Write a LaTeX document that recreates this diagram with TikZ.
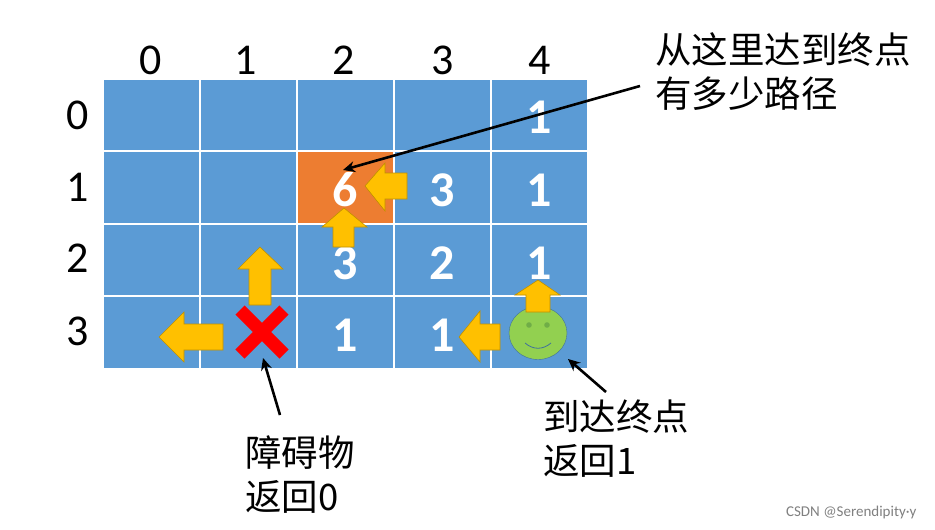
\documentclass[tikz,border=0pt]{standalone}
\usepackage{fontspec}
\setmainfont{Carlito}
\newfontfamily\cjk{Noto Sans CJK SC}
\usetikzlibrary{arrows.meta,shapes.geometric}
\begin{document}
\begin{tikzpicture}[x=1pt,y=-1pt,
  cell/.style={fill=cellblue,draw=white,line width=1.2pt},
  yarrow/.style={fill=arrowy,draw=arrowedge,line width=0.6pt},
  callout/.style={draw=black,line width=2.6pt,-{Stealth[length=12pt,width=11pt]}},
  num/.style={text=white,font=\fontsize{50}{50}\selectfont\bfseries},
  lab/.style={font=\fontsize{44}{44}\selectfont},
  ctext/.style={font=\cjk\fontsize{36.5}{44}\selectfont,align=left,anchor=north west,inner sep=0pt}]
\definecolor{cellblue}{HTML}{5B9BD5}
\definecolor{arrowy}{HTML}{FFC000}
\definecolor{arrowedge}{HTML}{BF9000}
\definecolor{orng}{HTML}{ED7D31}
\definecolor{smile}{HTML}{92D050}
\definecolor{smileedge}{HTML}{41719C}
\definecolor{eye}{HTML}{70AD47}
\useasboundingbox (0,0) rectangle (935,530);
\fill[white] (0,0) rectangle (935,530);
% grid
\foreach \i/\x in {0/103,1/200,2/297,3/394,4/491}{
  \foreach \j/\y in {0/79,1/151,2/224,3/296}{
    \draw[cell] (\x,\y) rectangle ++(97,72.5);
  }}
\fill[orng] (297.6,151.6) rectangle (393.4,223.4);
% labels
\foreach \i/\x in {0/151,1/246,2/344,3/443,4/540}
  \node[lab] (c\i) at (\x,60) {\i};
\foreach \j/\y in {0/115,1/187,2/258,3/331}
  \node[lab] (r\j) at (78,\y) {\j};
% numbers
\node[num] (n04) at (539,117) {1};
\node[num] (n12) at (345,190) {6};
\node[num] (n13) at (442,190) {3};
\node[num] (n14) at (539,190) {1};
\node[num] (n22) at (345,263) {3};
\node[num] (n23) at (442,263) {2};
\node[num] (n24) at (539,263) {1};
\node[num] (n32) at (345,335) {1};
\node[num] (n33) at (442,335) {1};
% yellow arrows
\draw[yarrow] (365,186) -- (385,163) -- (385,173) -- (407,173) -- (407,199) -- (385,199) -- (385,211) -- cycle;
\draw[yarrow] (344,208) -- (367,227) -- (354,227) -- (354,247) -- (333,247) -- (333,227) -- (322,227) -- cycle;
\draw[yarrow] (260,247) -- (283,269) -- (271,269) -- (271,305) -- (249,305) -- (249,269) -- (238,269) -- cycle;
\draw[yarrow] (159,337) -- (184,312) -- (184,324) -- (223,324) -- (223,350) -- (184,350) -- (184,362) -- cycle;
\draw[yarrow] (459,337) -- (480,311) -- (480,324) -- (500,324) -- (500,350) -- (480,350) -- (480,362) -- cycle;
% obstacle
\node (x) at (262,332) {};
\draw[red,line width=13pt] (240,310) -- (284,354) (284,310) -- (240,354);
% smiley
\node[draw=smileedge,fill=smile,ellipse,minimum width=58pt,minimum height=53pt,inner sep=0pt] (s) at (538,333) {};
\fill[eye] (529,325) circle (2.8) (547,325) circle (2.8);
\draw[smileedge,line width=0.8pt] (525,343) .. controls (533,350) and (543,350) .. (551,343);
\draw[yarrow] (538,280) -- (560,295) -- (550,295) -- (550,312) -- (526,312) -- (526,295) -- (515,295) -- cycle;
% callouts
\node[ctext] (t1) at (655,32) {从这里达到终点\\有多少路径};
\node[ctext] (t2) at (245,435) {障碍物\\返回0};
\node[ctext] (t3) at (543,400) {到达终点\\返回1};
\coordinate (a1) at (640,86);
\coordinate (a2) at (280,415);
\coordinate (a3) at (606,392);
\draw[callout] (a1) -- (343,170);
\draw[callout] (a2) -- (263,358);
\draw[callout] (a3) -- (568,359);
\node[text=gray,font=\fontsize{15}{15}\selectfont,anchor=south east] (wm) at (920,522) {CSDN @Serendipity·y};
\end{tikzpicture}
\end{document}
